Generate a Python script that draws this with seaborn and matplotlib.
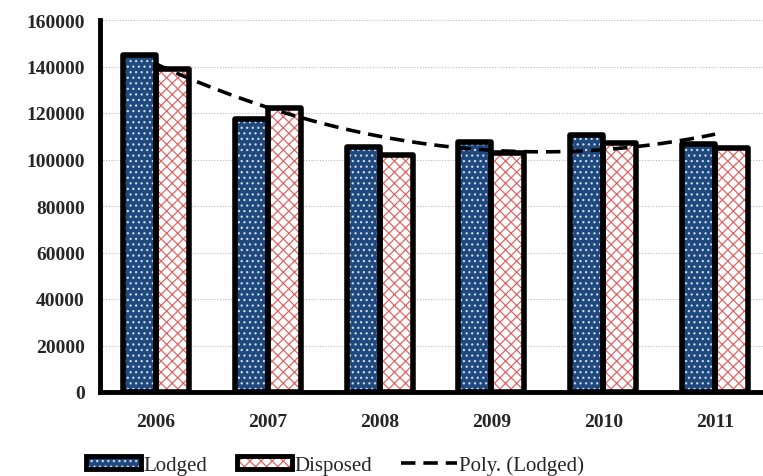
import numpy as np
import pandas as pd
import matplotlib
matplotlib.use("Agg")
import matplotlib.pyplot as plt
import seaborn as sns
from matplotlib.patches import Rectangle, Patch
from matplotlib.lines import Line2D
from matplotlib.legend_handler import HandlerBase

years = ["2006", "2007", "2008", "2009", "2010", "2011"]
lodged = [145000, 117500, 105500, 107500, 110500, 106500]
disposed = [139000, 122000, 102000, 103000, 107000, 105000]
series_names = ["Lodged", "Disposed"]
yticks = [0, 20000, 40000, 60000, 80000, 100000, 120000, 140000, 160000]

BLUE = "#1F497D"
BLUE_HATCH = "#C9D6EA"
RED_HATCH = "#E06666"

sns.set_theme(style="white")
plt.rcParams['font.family'] = ['Liberation Serif', 'DejaVu Serif']
plt.rcParams['hatch.linewidth'] = 0.9

df = pd.DataFrame({
    "year": years * 2,
    "value": lodged + disposed,
    "series": [series_names[0]] * len(years) + [series_names[1]] * len(years),
})

fig = plt.figure(figsize=(7.63, 4.77), dpi=100)
ax = fig.add_axes([100/763, (477-393)/477, 671/763, 372/477])

sns.barplot(data=df, x="year", y="value", hue="series",
            palette=[BLUE, "white"], width=0.59, ax=ax, legend=False,
            linewidth=0, saturation=1)

for i, p in enumerate(ax.patches[:12]):
    is_lodged = i < len(years)
    p.set_hatch("..." if is_lodged else "xxx")
    p.set_edgecolor(BLUE_HATCH if is_lodged else RED_HATCH)
    p.set_linewidth(0)
    ax.add_patch(Rectangle(p.get_xy(), p.get_width(), p.get_height(),
                           fill=False, edgecolor="black", linewidth=4,
                           joinstyle="round", zorder=3))

# polynomial trend of Lodged (order 2)
xs = np.arange(len(years))
coef = np.polyfit(xs, lodged, 2)
xd = np.linspace(0, len(years) - 1, 200)
ax.plot(xd, np.polyval(coef, xd), color="black", linestyle=(0, (4, 2.2)),
        linewidth=2.6, zorder=4)

ax.set_xlim(-0.5, 5.5)
ax.set_ylim(0, 160000)
ax.set_yticks(yticks)
ax.set_yticklabels([str(v) for v in yticks], fontsize=14, fontweight="bold")
ax.set_xticks(range(len(years)))
ax.set_xticklabels(years, fontsize=14, fontweight="bold")
ax.set_xticks(np.arange(-0.5, 5.6, 1.0), minor=True)
ax.tick_params(axis="x", which="major", length=0, pad=15)
ax.tick_params(axis="x", which="minor", length=5, width=3, direction="out", color="black")
ax.tick_params(axis="y", length=6, width=3, direction="out", color="black", pad=5)
ax.set_xlabel("")
ax.set_ylabel("")

ax.yaxis.grid(True, color="#BBBBBB", linestyle=(0, (1, 1.5)), linewidth=0.8)
ax.set_axisbelow(True)
for s in ["top", "right"]:
    ax.spines[s].set_visible(False)
for s in ["left", "bottom"]:
    ax.spines[s].set_color("black")
    ax.spines[s].set_linewidth(3.5)


class HatchHandler(HandlerBase):
    def __init__(self, face, hatch, hcolor):
        super().__init__()
        self.face, self.hatch, self.hcolor = face, hatch, hcolor

    def create_artists(self, legend, orig_handle, xdescent, ydescent,
                       width, height, fontsize, trans):
        r1 = Rectangle((-xdescent, -ydescent), width, height, facecolor=self.face,
                       edgecolor=self.hcolor, hatch=self.hatch, linewidth=0,
                       transform=trans)
        r2 = Rectangle((-xdescent, -ydescent), width, height, fill=False,
                       edgecolor="black", linewidth=3.5, transform=trans)
        return [r1, r2]


h1 = Patch(facecolor=BLUE)
h2 = Patch(facecolor="white")
h3 = Line2D([0], [0], color="black", linestyle=(0, (4, 2.2)), linewidth=2.6)
leg = fig.legend([h1, h2, h3], ["Lodged", "Disposed", "Poly. (Lodged)"],
                 handler_map={h1: HatchHandler(BLUE, "...", BLUE_HATCH),
                              h2: HatchHandler("white", "xxx", RED_HATCH)},
                 loc="center", bbox_to_anchor=(335/763, 1 - 466/477), ncol=3,
                 frameon=False, fontsize=15, handlelength=2.65, handleheight=0.6,
                 handletextpad=0.12, columnspacing=1.4)

fig.savefig("out.png", dpi=100)
